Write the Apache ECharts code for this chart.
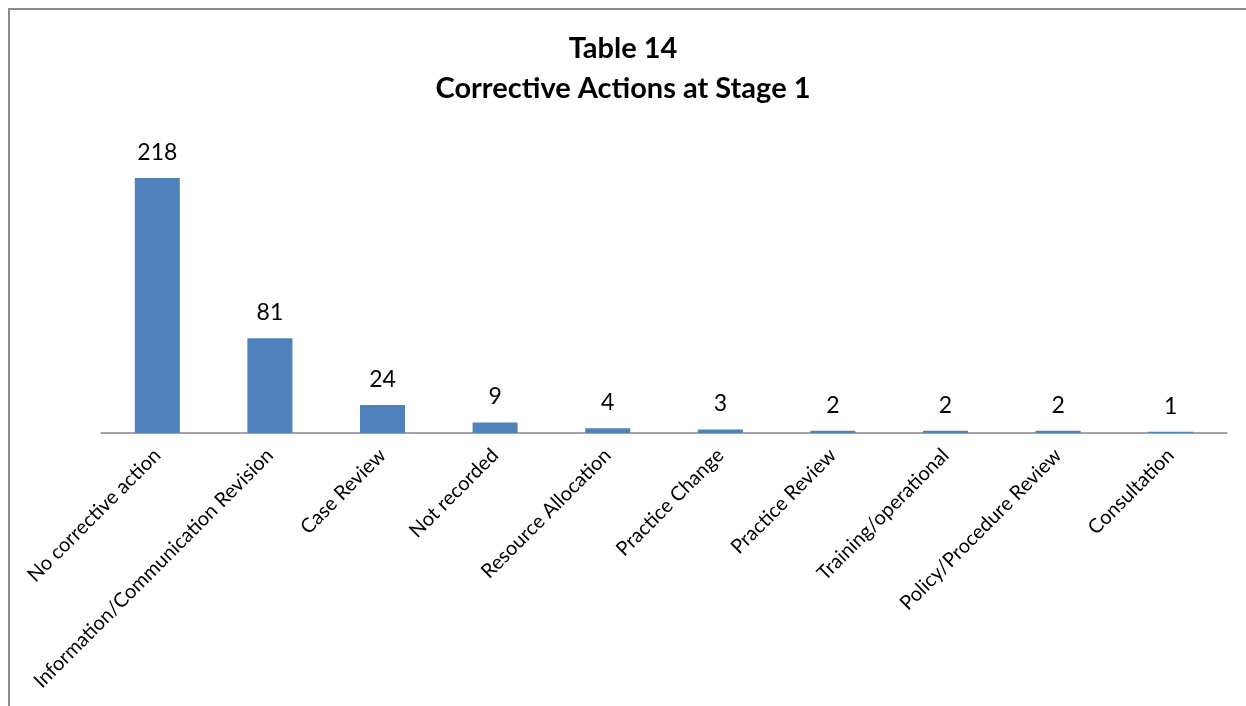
<!DOCTYPE html>
<html>
<head>
<meta charset="utf-8">
<script src="https://cdn.jsdelivr.net/npm/echarts@6/dist/echarts.min.js"></script>
<style>
html,body{margin:0;padding:0;background:#fff;}
#frame{position:absolute;left:8px;top:8px;width:1238px;height:698px;border-left:2px solid #8c8c8c;border-top:2px solid #8c8c8c;box-sizing:border-box;}
#chart{position:absolute;left:0;top:0;width:1246px;height:706px;}
</style>
</head>
<body>
<div id="frame"></div>
<div id="chart"></div>
<script>
const categories = [
  'No corrective action',
  'Information/Communication Revision',
  'Case Review',
  'Not recorded',
  'Resource Allocation',
  'Practice Change',
  'Practice Review',
  'Training/operational',
  'Policy/Procedure Review',
  'Consultation'
];
const counts = [218, 81, 24, 9, 4, 3, 2, 2, 2, 1];

const FONT = 'Lato';

const chart = echarts.init(document.getElementById('chart'), null, {renderer: 'canvas'});
chart.setOption({
  animation: false,
  title: {
    text: 'Table 14\nCorrective Actions at Stage 1',
    left: 'center',
    top: 24,
    textStyle: {
      fontFamily: FONT,
      fontWeight: 'bold',
      fontSize: 29,
      lineHeight: 40,
      color: '#000'
    }
  },
  grid: {left: 101, right: 19, top: 140.6, bottom: 273, containLabel: false},
  xAxis: {
    type: 'category',
    data: categories,
    axisLine: {lineStyle: {color: '#888', width: 1.5}},
    axisTick: {show: false},
    axisLabel: {
      rotate: 45,
      interval: 0,
      margin: 19,
      fontFamily: FONT,
      fontSize: 20,
      color: '#000'
    }
  },
  yAxis: {
    type: 'value',
    min: 0,
    max: 250,
    show: false,
    splitLine: {show: false}
  },
  series: [{
    type: 'bar',
    data: counts,
    barWidth: '40%',
    itemStyle: {color: '#4F81BD'},
    label: {
      show: true,
      position: 'top',
      distance: 14,
      fontFamily: FONT,
      fontSize: 23,
      color: '#000'
    }
  }]
});
</script>
</body>
</html>
